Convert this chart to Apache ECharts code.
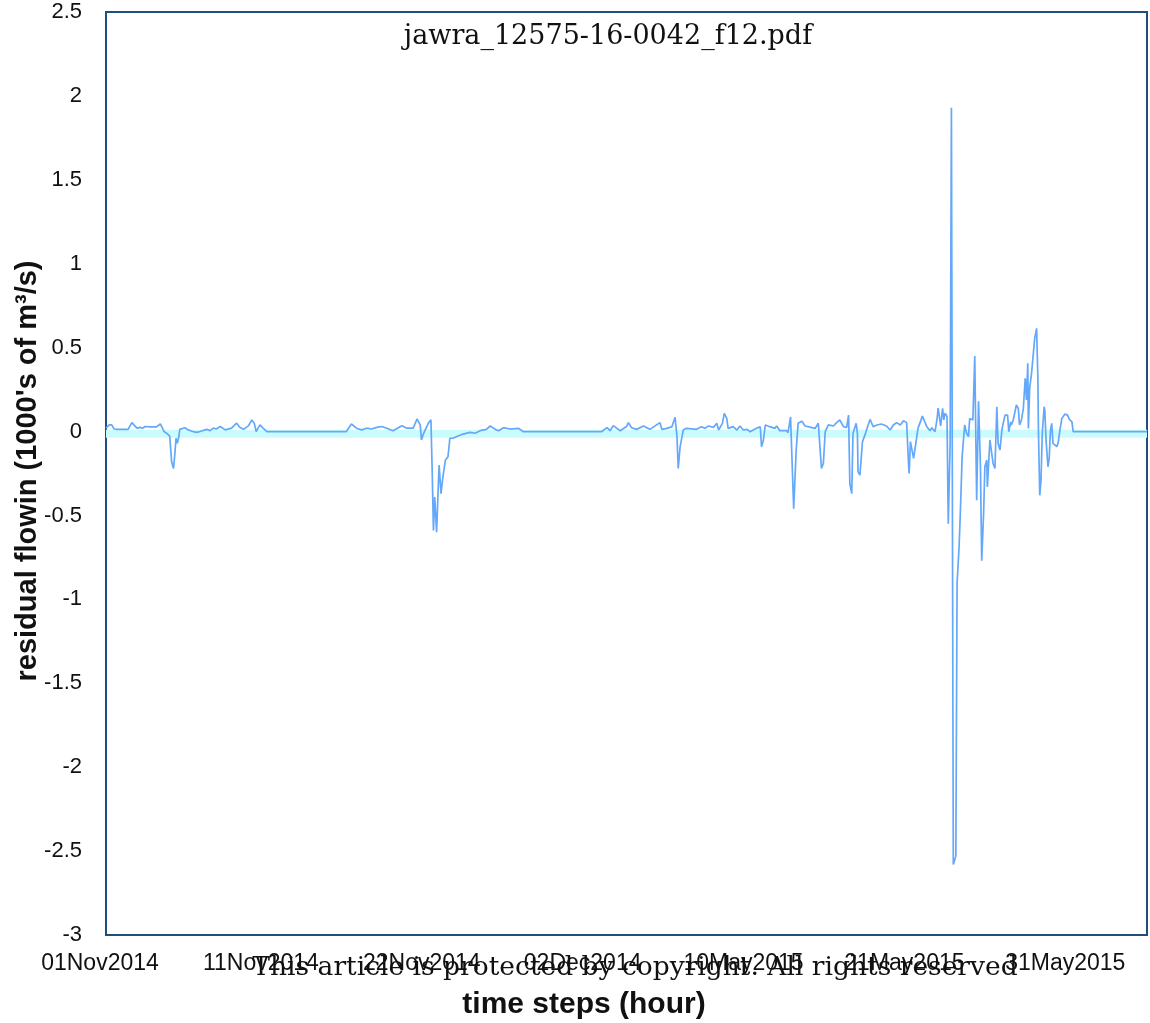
<!DOCTYPE html>
<html>
<head>
<meta charset="utf-8">
<title>residual flowin</title>
<script src="https://cdn.jsdelivr.net/npm/echarts@6/dist/echarts.min.js"></script>
<style>
  html, body { margin: 0; padding: 0; background: #fff; }
  #chart { width: 1150px; height: 1023px; }
</style>
</head>
<body>
<div id="chart"></div>
<script>
// hour index (time step) of each read point
const hours = [0, 1, 5, 9, 13, 17, 35, 41, 44, 49, 54, 58, 62, 70, 80, 86, 89, 92, 96, 101,
  104, 107, 109, 111, 113, 115, 117, 120, 125, 130, 138, 144, 149, 160, 165, 170, 175, 181, 189, 199,
  207, 212, 218, 226, 231, 235, 238, 240, 244, 249, 255, 381, 389, 397, 405, 413, 421, 429, 437, 445,
  455, 469, 477, 487, 493, 498, 500, 503, 506, 511, 515, 516, 517, 519, 521, 523, 524, 527, 528, 531,
  534, 536, 538, 542, 544, 545, 550, 556, 566, 577, 585, 593, 603, 609, 617, 622, 630, 640, 654, 661,
  786, 794, 799, 804, 815, 825, 828, 833, 841, 852, 862, 878, 881, 889, 897, 902, 905, 907, 910, 915,
  920, 936, 944, 949, 955, 963, 968, 971, 974, 977, 980, 984, 986, 989, 994, 1000, 1005, 1010, 1016, 1021,
  1031, 1037, 1039, 1042, 1045, 1047, 1052, 1060, 1063, 1068, 1079, 1081, 1085, 1088, 1090, 1094, 1097, 1103, 1108, 1119,
  1124, 1129, 1132, 1134, 1137, 1140, 1145, 1153, 1158, 1163, 1166, 1169, 1174, 1177, 1179, 1182, 1184, 1189, 1191, 1192,
  1195, 1199, 1203, 1208, 1211, 1216, 1222, 1229, 1237, 1243, 1248, 1253, 1259, 1264, 1269, 1272, 1273, 1275, 1280, 1282,
  1285, 1287, 1290, 1294, 1297, 1301, 1306, 1309, 1314, 1317, 1319, 1323, 1326, 1328, 1330, 1333, 1335, 1338, 1340, 1343,
  1346, 1347, 1349, 1352, 1354, 1357, 1361, 1364, 1367, 1369, 1372, 1374, 1377, 1379, 1380, 1383, 1384, 1386, 1388, 1391,
  1393, 1396, 1397, 1399, 1401, 1404, 1406, 1409, 1412, 1414, 1417, 1420, 1422, 1425, 1429, 1431, 1434, 1435, 1438, 1441,
  1443, 1446, 1448, 1451, 1454, 1457, 1459, 1461, 1462, 1464, 1467, 1470, 1472, 1475, 1477, 1478, 1480, 1482, 1484, 1487,
  1488, 1490, 1493, 1495, 1497, 1499, 1501, 1504, 1507, 1509, 1512, 1515, 1520, 1524, 1527, 1531, 1533, 1650];

// residual flowin (1000's of m3/s)
const residual = [0.02, 0.03, 0.04, 0.04, 0.015, 0.013, 0.013, 0.053, 0.045, 0.02, 0.025, 0.02, 0.03, 0.028, 0.028, 0.045, 0.025, 0.0, -0.01, -0.027,
  -0.18, -0.22, -0.14, -0.04, -0.07, -0.04, 0.013, 0.01, 0.023, 0.01, 0.0, -0.005, 0.0, 0.013, 0.005, 0.02, 0.015, 0.03, 0.01, 0.02,
  0.05, 0.025, 0.013, 0.035, 0.069, 0.05, 0.0, -0.01, 0.04, 0.02, 0, 0, 0.045, 0.02, 0.01, 0.02, 0.015, 0.025, 0.03, 0.02,
  0.005, 0.035, 0.02, 0.02, 0.075, 0.04, -0.05, -0.015, 0.01, 0.05, 0.07, 0.06, -0.23, -0.59, -0.39, -0.39, -0.6, -0.29, -0.2, -0.37,
  -0.27, -0.22, -0.17, -0.15, -0.08, -0.04, -0.04, -0.03, -0.015, -0.005, -0.01, 0.005, 0.013, 0.033, 0.013, 0.005, 0.023, 0.015, 0.019, 0,
  0, 0.023, 0.005, 0.035, 0.005, 0.03, 0.053, 0.023, 0.013, 0.033, 0.013, 0.053, 0.013, 0.019, 0.029, 0.085, -0.03, -0.22, -0.09, 0.009,
  0.019, 0.013, 0.029, 0.019, 0.033, 0.025, 0.049, 0.009, -0.001, 0.049, 0.108, 0.078, 0.019, 0.009, 0.029, 0.009, 0.033, 0.009, 0.013, -0.001,
  0.019, 0.029, -0.09, -0.05, 0.039, 0.045, 0.029, 0.019, 0.033, 0.005, 0.005, -0.007, 0.088, 0.088, -0.46, -0.11, 0.049, 0.062, 0.033, 0.023,
  0.019, 0.049, 0.053, -0.22, -0.19, 0.0, 0.04, 0.033, 0.053, 0.069, 0.078, 0.029, 0.025, 0.098, -0.31, -0.37, -0.011, 0.049, -0.01, -0.24,
  -0.26, -0.06, -0.02, 0.039, 0.072, 0.029, 0.039, 0.045, 0.033, 0.009, 0.039, 0.053, 0.039, 0.065, 0.053, -0.19, -0.25, -0.06, -0.16, -0.15,
  -0.035, 0.019, 0.029, 0.092, 0.098, 0.029, 0.005, 0.023, -0.001, 0.069, 0.14, 0.033, 0.138, 0.069, 0.11, 0.09, -0.55, -0.07, 1.93, -2.58,
  -2.58, -2.53, -0.9, -0.7, -0.5, -0.15, 0.04, -0.01, -0.03, 0.078, 0.084, 0.069, 0.45, 0.44, -0.41, 0.18, 0.18, -0.21, -0.77, -0.49,
  -0.21, -0.17, -0.33, -0.34, -0.05, -0.05, -0.19, -0.22, 0.147, -0.07, -0.11, 0.009, 0.049, 0.098, 0.098, -0.001, 0.058, 0.039, 0.069, 0.058,
  0.158, 0.138, 0.039, 0.069, 0.138, 0.317, 0.188, 0.407, 0.019, 0.257, 0.347, 0.357, 0.555, 0.615, 0.327, -0.011, -0.38, -0.29, -0.011, 0.148,
  0.128, -0.05, -0.21, -0.16, 0.009, 0.049, -0.07, -0.06, -0.09, -0.07, 0.009, 0.078, 0.104, 0.098, 0.072, 0.058, 0, 0];

const tickLabels = ['01Nov2014', '11Nov2014', '22Nov2014', '02Dec2014', '10May2015', '21May2015', '31May2015'];
const tickStep = 255;
const lastHour = 1650;
const bandLevel = -0.013;

const chart = echarts.init(document.getElementById('chart'));

chart.setOption({
  animation: false,
  backgroundColor: '#ffffff',
  grid: {
    left: 106, right: 3, top: 12, bottom: 88,
    show: true, borderColor: '#1f4e7c', borderWidth: 2, backgroundColor: 'transparent'
  },
  xAxis: {
    type: 'value',
    min: 0, max: lastHour, interval: tickStep,
    axisLine: { show: false },
    axisTick: { show: false },
    splitLine: { show: false },
    axisLabel: {
      color: '#111', fontSize: 23, fontFamily: 'Liberation Sans, Arial, sans-serif',
      margin: 17, padding: [0, 12, 0, 0],
      showMaxLabel: false,
      formatter: v => tickLabels[Math.round(v / tickStep)] || ''
    }
  },
  yAxis: {
    type: 'value',
    min: -3, max: 2.5, interval: 0.5,
    axisLine: { show: false },
    axisTick: { show: false },
    splitLine: { show: false },
    axisLabel: { color: '#111', fontSize: 22, fontFamily: 'Liberation Sans, Arial, sans-serif', margin: 24 }
  },
  series: [
    {
      name: 'zero band',
      type: 'line',
      z: 1,
      silent: true,
      showSymbol: false,
      data: [[0, bandLevel], [lastHour, bandLevel]],
      lineStyle: { color: '#cafcfd', width: 8 }
    },
    {
      name: 'residual',
      type: 'line',
      z: 3,
      showSymbol: false,
      data: hours.map((h, i) => [h, residual[i]]),
      lineStyle: { color: '#63a8fa', width: 1.7 }
    }
  ],
  graphic: [
    {
      type: 'text', z: 10,
      style: { text: 'jawra_12575-16-0042_f12.pdf', x: 608, y: 37, align: 'center', verticalAlign: 'middle',
        font: '27px "DejaVu Serif", serif', fill: '#111' }
    },
    {
      type: 'text', z: 10,
      style: { text: 'time steps (hour)', x: 584, y: 1005, align: 'center', verticalAlign: 'middle',
        font: 'bold 30px "Liberation Sans", Arial, sans-serif', fill: '#111' }
    },
    {
      type: 'text', z: 10, rotation: Math.PI / 2, x: 28, y: 471,
      style: { text: "residual flowin (1000's of m³/s)", x: 0, y: 0, align: 'center', verticalAlign: 'middle',
        font: 'bold 29px "Liberation Sans", Arial, sans-serif', fill: '#111' }
    },
    {
      type: 'text', z: 10,
      style: { text: 'This article is protected by copyright. All rights reserved', x: 635, y: 968,
        align: 'center', verticalAlign: 'middle', font: '26.5px "DejaVu Serif", serif', fill: '#111' }
    }
  ]
});
</script>
</body>
</html>
